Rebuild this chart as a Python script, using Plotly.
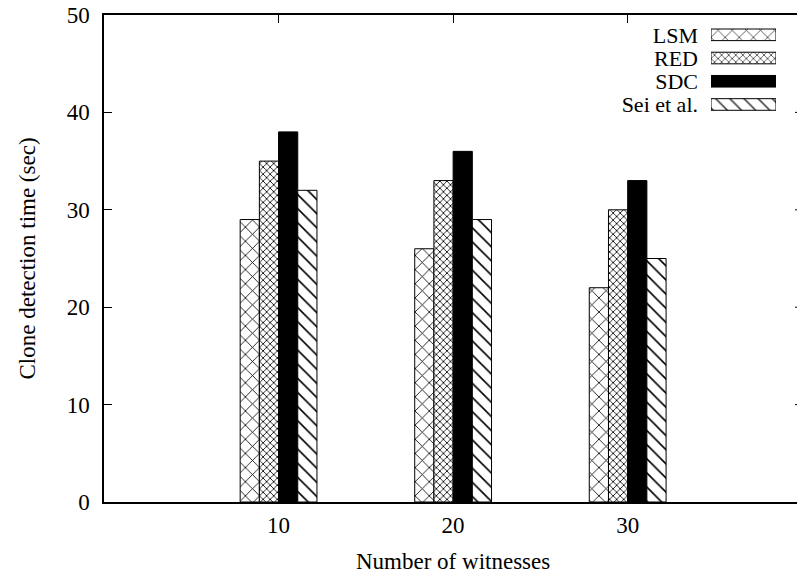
import plotly.graph_objects as go

# Clone detection time vs. number of witnesses
witnesses = [10, 20, 30]
series_names = ["LSM", "RED", "SDC", "Sei et al."]
lsm = [29, 26, 22]
red = [35, 33, 30]
sdc = [38, 36, 33]
sei = [32, 29, 25]
y_ticks = [0, 10, 20, 30, 40, 50]
x_ticks = [10, 20, 30]

FONT = "Liberation Serif"
W, H = 797, 574
L, R, T, B = 104, 0, 15, 72  # margins in px
plot_w = W - L - R
plot_h = H - T - B

# fill styles per series: (base colour, pattern shape, pattern size, solidity)
styles = {
    "LSM": ("white", "x", 10, 0.16),
    "RED": ("white", "x", 5, 0.3),
    "SDC": ("black", "", 8, 0.2),
    "Sei et al.": ("white", "\\", 10, 0.16),
}

fig = go.Figure()
for name, vals in zip(series_names, [lsm, red, sdc, sei]):
    color, shape, size, solid = styles[name]
    fig.add_trace(go.Bar(
        x=witnesses, y=vals, name=name,
        marker=dict(color=color,
                    line=dict(color="black", width=1),
                    pattern=dict(shape=shape, size=size, solidity=solid,
                                 fgcolor="black", fgopacity=1, bgcolor=color)),
        showlegend=False,
    ))

# key: one horizontal swatch per series on a small inset axis
fig.add_trace(go.Bar(
    x=[1] * len(series_names), y=series_names, orientation="h",
    xaxis="x2", yaxis="y2", width=0.5, showlegend=False,
    marker=dict(color=[styles[n][0] for n in series_names],
                line=dict(color="black", width=1),
                pattern=dict(shape=[styles[n][1] for n in series_names],
                             size=[styles[n][2] for n in series_names],
                             solidity=[styles[n][3] for n in series_names],
                             fgcolor="black", fgopacity=1,
                             bgcolor=[styles[n][0] for n in series_names])),
))

fig.update_layout(
    width=W, height=H,
    margin=dict(l=L, r=R, t=T, b=B, pad=0),
    paper_bgcolor="white", plot_bgcolor="white",
    barmode="group", bargap=0.56, bargroupgap=0,
    font=dict(family=FONT, size=23, color="black"),
    xaxis=dict(range=[0, 39.7], tickvals=x_ticks, ticks="inside", ticklen=8,
               tickcolor="black", showline=True, linecolor="black", linewidth=1.5,
               mirror="ticks", showgrid=False, zeroline=False,
               ticklabelstandoff=2, tickfont=dict(size=23)),
    yaxis=dict(range=[0, 50], tickvals=y_ticks, ticks="inside", ticklen=8,
               tickcolor="black", showline=True, linecolor="black", linewidth=1.5,
               showgrid=False, zeroline=False, ticklabelstandoff=8,
               tickfont=dict(size=23)),
    xaxis2=dict(domain=[(711 - L) / plot_w, (776 - L) / plot_w], range=[0, 1],
                anchor="y2", visible=False, fixedrange=True),
    yaxis2=dict(domain=[(H - B - 116.1) / plot_h, (H - B - 23.2) / plot_h],
                anchor="x2", range=[3.5, -0.5], type="category",
                tickmode="array", tickvals=series_names, ticktext=series_names,
                showline=False, showgrid=False, zeroline=False, ticks="",
                ticklabelstandoff=12, tickfont=dict(size=22), fixedrange=True),
)

# right-hand tick stubs (the frame's right side falls just outside the view)
for v in y_ticks[1:-1]:
    fig.add_shape(type="line", xref="paper", yref="y", x0=1 - 2 / plot_w, x1=1,
                  y0=v, y1=v, line=dict(color="black", width=1))

fig.add_annotation(text="Number of witnesses", xref="paper", yref="paper",
                   x=(453.3 - L) / plot_w, y=-(561 - (H - B)) / plot_h,
                   xanchor="center", yanchor="middle", showarrow=False,
                   font=dict(family=FONT, size=23))
fig.add_annotation(text="Clone detection time (sec)", xref="paper", yref="paper",
                   x=-(L - 27) / plot_w, y=0.5, textangle=-90,
                   xanchor="center", yanchor="middle", showarrow=False,
                   font=dict(family=FONT, size=23))

fig.write_html("out.html")
